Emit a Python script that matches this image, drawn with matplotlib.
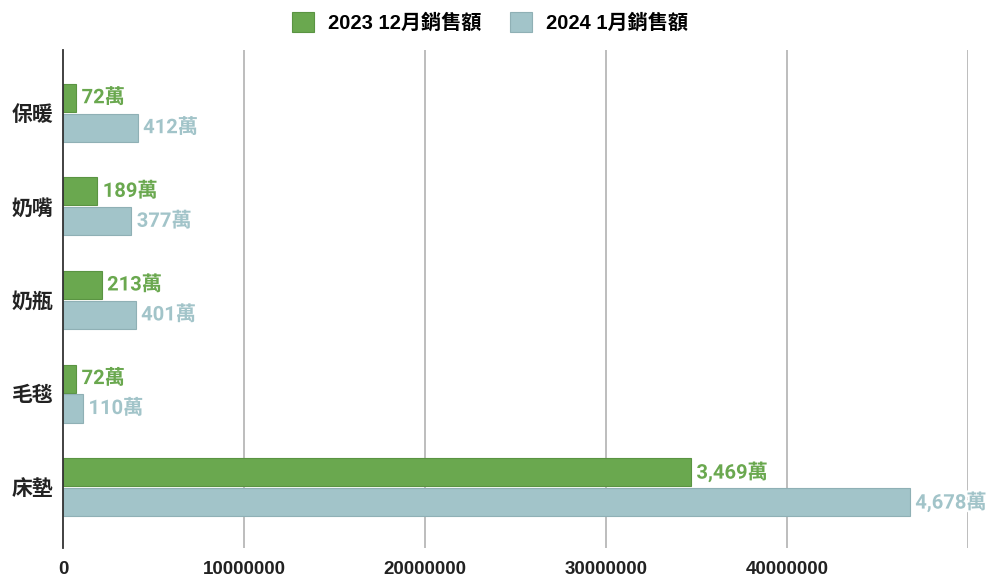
import matplotlib
matplotlib.use("Agg")
import matplotlib.pyplot as plt
import matplotlib.patheffects as pe
import numpy as np

categories = ["保暖", "奶嘴", "奶瓶", "毛毯", "床墊"]
sales_dec = [720000, 1890000, 2130000, 720000, 34690000]
sales_jan = [4120000, 3770000, 4010000, 1100000, 46780000]
series_names = ["2023 12月銷售額", "2024 1月銷售額"]
xticks = [0, 10000000, 20000000, 30000000, 40000000]

GREEN = "#6aa84f"
BLUE = "#a2c4c9"
tick_font = ["Liberation Sans", "Noto Sans CJK TC"]
label_font = ["Roboto", "Noto Sans CJK TC"]

fig = plt.figure(figsize=(9.9, 5.78), dpi=100)
ax = fig.add_axes([63 / 990, 30 / 578, 905 / 990, 498 / 578])

y = np.arange(len(categories))
h = 0.3
off = 0.16

b1 = ax.barh(y - off, sales_dec, height=h, color=GREEN, edgecolor="#5a9442",
             linewidth=0.8, label=series_names[0], zorder=3)
b2 = ax.barh(y + off, sales_jan, height=h, color=BLUE, edgecolor="#8fb0b5",
             linewidth=0.8, label=series_names[1], zorder=3)

def wan(v):
    return f"{v / 10000:,.0f}萬"

outline = [pe.withStroke(linewidth=3, foreground="white")]
for vals, ypos, col in [(sales_dec, y - off, GREEN), (sales_jan, y + off, BLUE)]:
    for v, yy in zip(vals, ypos):
        ax.annotate(wan(v), (v, yy), xytext=(4, 0), textcoords="offset points",
                    va="center", ha="left", fontsize=14.5, fontweight="bold",
                    color=col, family=label_font, path_effects=outline, zorder=5)

ax.set_xlim(0, 50000000)
ax.set_ylim(4.65, -0.67)
ax.set_xticks(xticks)
ax.set_xticklabels([str(t) for t in xticks], fontsize=13.5, fontweight="bold",
                   family=tick_font, color="#222222")
ax.set_yticks(y)
ax.set_yticklabels(categories, fontsize=15, fontweight="bold",
                   family=tick_font, color="#222222")
ax.tick_params(axis="x", length=0, pad=9)
ax.tick_params(axis="y", length=0, pad=7)

for gx in [10000000, 20000000, 30000000, 40000000, 50000000]:
    ax.axvline(gx, color="#b7b7b7", linewidth=1.3, zorder=1)

for s in ["top", "right", "bottom"]:
    ax.spines[s].set_visible(False)
ax.spines["left"].set_color("#333333")
ax.spines["left"].set_linewidth(1.3)
ax.spines["left"].set_zorder(4)

leg = fig.legend(handles=[b1, b2], loc="upper center", bbox_to_anchor=(0.495, 1.01),
                 ncol=2, frameon=False, handlelength=1.1, handleheight=1.1,
                 columnspacing=1.4, handletextpad=0.7,
                 prop={"family": tick_font, "weight": "bold", "size": 14.5})

fig.savefig("out.png", dpi=100, facecolor="white")
